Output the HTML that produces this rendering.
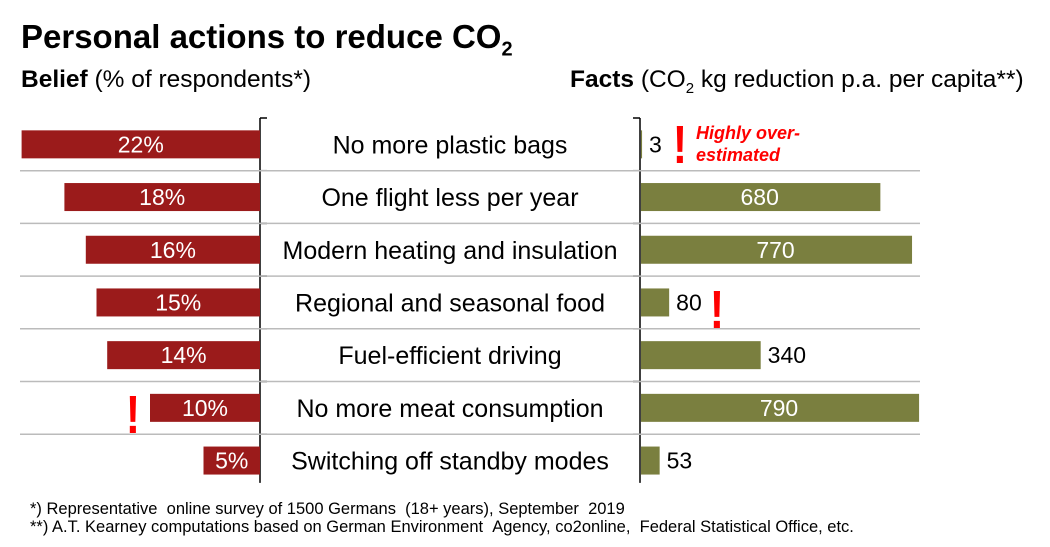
<!DOCTYPE html>
<html><head><meta charset="utf-8"><style>
body{margin:0;width:1050px;height:547px;background:#fff;font-family:"Liberation Sans",Arial,sans-serif;overflow:hidden;position:relative}
.t{position:absolute;white-space:nowrap}
</style></head><body>
<div class="t" style="left:21px;top:18px;font-size:33px;font-weight:bold">Personal actions to reduce CO<sub style="font-size:20px">2</sub></div>
<div class="t" style="left:21px;top:66px;font-size:24.5px"><b>Belief</b> (% of respondents*)</div>
<div class="t" style="left:570px;top:66px;font-size:24.5px"><b>Facts</b> (CO<sub style="font-size:15px">2</sub> kg reduction p.a. per capita**)</div>
<svg id="c" width="1050" height="547" style="position:absolute;left:0;top:0"></svg>
<div class="t" style="left:30px;top:500px;font-size:16.5px">*) Representative &nbsp;online survey of 1500 Germans &nbsp;(18+ years), September &nbsp;2019</div>
<div class="t" style="left:30px;top:518px;font-size:16.5px">**) A.T. Kearney computations based on German Environment &nbsp;Agency, co2online, &nbsp;Federal Statistical Office, etc.</div>
<script>
const categories=["No more plastic bags","One flight less per year","Modern heating and insulation","Regional and seasonal food","Fuel-efficient driving","No more meat consumption","Switching off standby modes"];
const belief=[22,18,16,15,14,10,5];
const facts=[3,680,770,80,340,790,53];
const NS="http://www.w3.org/2000/svg";
const svg=document.getElementById('c');
const top0=118,rowH=52.7,lx=260,rx=640;
const bx=v=>3+v*10.7, fx=v=>v*0.352;
function mk(t,a){const e=document.createElementNS(NS,t);for(const k in a)e.setAttribute(k,a[k]);svg.appendChild(e);return e;}
const bot=top0+rowH*categories.length-4;
let l=mk('line',{x1:lx,y1:top0,x2:lx,y2:bot,stroke:'#000','stroke-width':1.5});


l=mk('line',{x1:rx,y1:top0,x2:rx,y2:bot,stroke:'#000','stroke-width':1.5});


categories.forEach((c,i)=>{
  const y0=top0+i*rowH, cy=y0+rowH/2;
  mk('line',{x1:lx,y1:y0,x2:lx+7,y2:y0,stroke:'#000','stroke-width':1.5});
  mk('line',{x1:rx-7,y1:y0,x2:rx,y2:y0,stroke:'#000','stroke-width':1.5});
  if(i>0){const s=mk('line',{x1:20,y1:y0,x2:920,y2:y0,stroke:'#bbb','stroke-width':1.5});
    
    }
  const w=bx(belief[i]);
  const b=mk('rect',{x:lx-w,y:cy-14,width:w,height:28,fill:'#9b1b1b'});
  
  
  const bt=mk('text',{x:lx-w/2,y:cy+8,'text-anchor':'middle','font-size':23,fill:'#fff','font-family':'Liberation Sans'});
  bt.textContent=belief[i]+'%';
  
  
  const ct=mk('text',{x:(lx+rx)/2,y:cy+9,'text-anchor':'middle','font-size':25,fill:'#000','font-family':'Liberation Sans'});
  ct.textContent=c;
  
  
  const fw=fx(facts[i]);
  const f=mk('rect',{x:rx+1,y:cy-14,width:fw,height:28,fill:'#7a7f3f'});
  
  
  const inside=fw>150;
  const ft=mk('text',{x:inside?rx+fw/2:rx+fw+8,y:cy+8,'text-anchor':inside?'middle':'start','font-size':23,fill:inside?'#fff':'#000','font-family':'Liberation Sans'});
  ft.textContent=facts[i];
  
  
});
function bang(x,y,n){const t=mk('text',{x:x,y:y,'font-size':54,'font-weight':'bold',fill:'#f00','text-anchor':'middle','font-family':'Liberation Sans',transform:'translate('+x+' '+y+') scale(0.8 1) translate('+(-x)+' '+(-y)+')'});t.textContent='!';
  
  }
bang(680,163,'exclamation-plastic');
bang(717,328,'exclamation-food');
bang(133,433,'exclamation-meat');
const h=mk('text',{x:696,y:139,'font-size':18,'font-weight':'bold','font-style':'italic',fill:'#f00','font-family':'Liberation Sans'});
h.textContent='Highly over-';


const h2=mk('text',{x:696,y:161,'font-size':18,'font-weight':'bold','font-style':'italic',fill:'#f00','font-family':'Liberation Sans'});
h2.textContent='estimated';


</script>
</body></html>
